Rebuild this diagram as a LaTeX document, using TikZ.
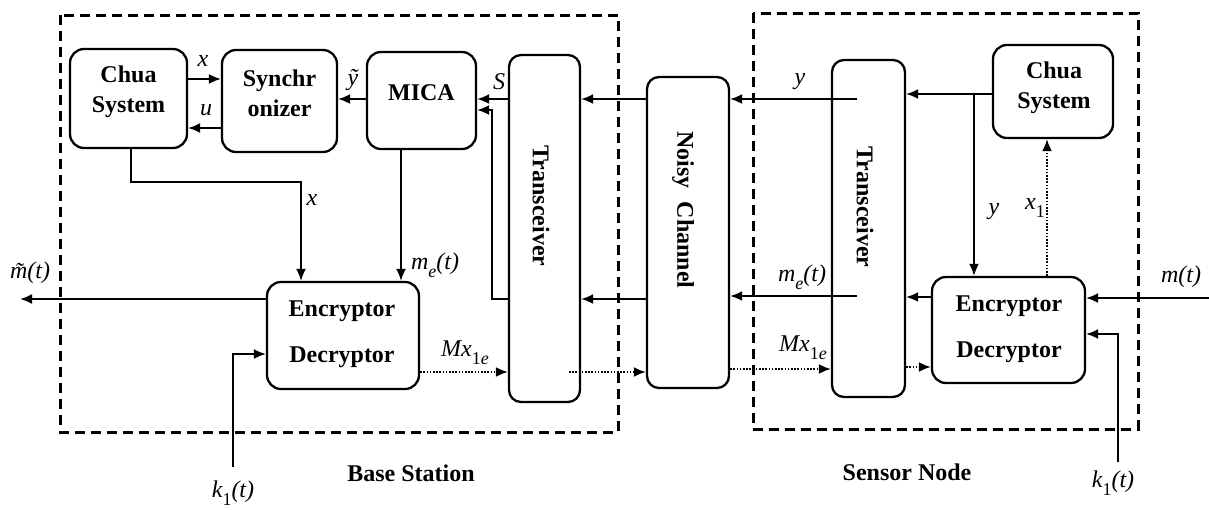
\documentclass[tikz,border=0pt]{standalone}
\usepackage{fontspec}
\setmainfont{Liberation Serif}[BoldFont={Liberation Serif Bold},ItalicFont={Liberation Serif Italic}]
\usetikzlibrary{arrows.meta}
\newcommand{\lsub}[1]{\raisebox{-0.34em}{\fontsize{18pt}{18pt}\selectfont #1}}
\begin{document}
\begin{tikzpicture}[x=1pt,y=-1pt,
  blk/.style={draw, line width=2.3pt, rounded corners=14pt, inner sep=0pt},
  btxt/.style={font=\fontsize{24pt}{30pt}\selectfont\bfseries, align=center, inner sep=0pt},
  etxt/.style={font=\fontsize{24pt}{46pt}\selectfont\bfseries, align=center, inner sep=0pt},
  lbl/.style={font=\fontsize{24pt}{24pt}\selectfont\itshape, inner sep=0pt},
  con/.style={line width=1.9pt},
  arr/.style={con, -{Latex[length=12pt,width=10pt]}},
  dotarr/.style={line width=1.9pt, dash pattern=on 1.6pt off 1.6pt, -{Latex[length=12pt,width=10pt]}},
  grp/.style={line width=3pt, dash pattern=on 10pt off 6pt},
  gtxt/.style={font=\fontsize{24pt}{28pt}\selectfont\bfseries, inner sep=0pt}
]
\useasboundingbox (0,0) rectangle (1209,509);

% group frames
\draw[grp] (60,15) rectangle (618,432);
\draw[grp] (753,13) rectangle (1138,429);
\node[gtxt] (bs) at (411,473) {Base Station};
\node[gtxt] (sn) at (907,472) {Sensor Node};

% blocks
\node[blk, minimum width=117pt, minimum height=99pt] (chuaL) at (128.5,98.5) {};
\node[btxt] (chuaLt) at (128.5,92) {Chua\\System};
\node[blk, minimum width=115pt, minimum height=102pt] (sync) at (279.5,101) {};
\node[btxt] (synct) at (279.5,93) {Synchr\\onizer};
\node[blk, minimum width=109pt, minimum height=97pt] (mica) at (421.5,100.5) {};
\node[btxt] (micat) at (421.5,93) {MICA};
\node[blk, rounded corners=12pt, minimum width=71pt, minimum height=347pt] (trL) at (544.5,228.5) {};
\node[btxt, rotate=-90] (trLt) at (541,206) {Transceiver};
\node[blk, rounded corners=12pt, minimum width=82pt, minimum height=311pt] (noisy) at (688,232.5) {};
\node[btxt, rotate=-90] (noisyt) at (683,210) {Noisy\hspace{0.55em}Channel};
\node[blk, rounded corners=12pt, minimum width=73pt, minimum height=337pt] (trR) at (868.5,228.5) {};
\node[btxt, rotate=-90] (trRt) at (865,207) {Transceiver};
\node[blk, minimum width=120pt, minimum height=93pt] (chuaR) at (1053,91.5) {};
\node[btxt] (chuaRt) at (1054,87.5) {Chua\\System};
\node[blk, minimum width=152pt, minimum height=107pt] (encL) at (343,335.5) {};
\node[etxt] (encLt) at (342,334) {Encryptor\\Decryptor};
\node[blk, minimum width=153pt, minimum height=106pt] (encR) at (1008.5,330) {};
\node[etxt] (encRt) at (1009,329.5) {Encryptor\\Decryptor};

% free ends
\coordinate (mtout) at (20,299);
\coordinate (k1L) at (233,467);
\coordinate (mtin) at (1209,298);
\coordinate (k1R) at (1118,462);

% base station connectors
\draw[arr] (chuaL.east |- 0,79) -- (sync.west |- 0,79);
\draw[arr] (sync.west |- 0,128) -- (chuaL.east |- 0,128);
\draw[arr] (mica.west |- 0,99) -- (sync.east |- 0,99);
\draw[arr] (131,0 |- chuaL.south) -- (131,182) -- (301,182) -- (301,0 |- encL.north);
\draw[arr] (401,0 |- mica.south) -- (401,0 |- encL.north);
\draw[arr] (trL.west |- 0,99) -- (mica.east |- 0,99);
\draw[arr] (trL.west |- 0,299) -- (492,299) -- (492,110) -- (mica.east |- 0,110);
\draw[arr] (encL.west |- 0,299) -- (mtout);
\draw[arr] (k1L) -- (233,354) -- (encL.west |- 0,354);
\draw[dotarr] (encL.east |- 0,372) -- (trL.west |- 0,372);
\draw[dotarr] (569,372) -- (noisy.west |- 0,372);
\draw[arr] (noisy.west |- 0,99) -- (trL.east |- 0,99);
\draw[arr] (noisy.west |- 0,299) -- (trL.east |- 0,299);

% sensor node connectors
\draw[arr] (857,99) -- (noisy.east |- 0,99);
\draw[arr] (857,296) -- (noisy.east |- 0,296);
\draw[dotarr] (noisy.east |- 0,369) -- (trR.west |- 0,369);
\draw[arr] (chuaR.west |- 0,94) -- (trR.east |- 0,94);
\draw[arr] (974,94) -- (974,0 |- encR.north);
\draw[dotarr] (1047,0 |- encR.north) -- (1047,0 |- chuaR.south);
\draw[arr] (encR.west |- 0,297) -- (trR.east |- 0,297);
\draw[dotarr] (trR.east |- 0,367) -- (encR.west |- 0,367);
\draw[arr] (mtin) -- (encR.east |- 0,298);
\draw[arr] (k1R) -- (1118,334) -- (encR.east |- 0,334);

% labels
\node[lbl] (lx1) at (203,61) {x};
\node[lbl] (lu) at (206,110) {u};
\node[lbl] (lyt) at (353,80) {\~{y}};
\node[lbl] (lS) at (499,82) {S};
\node[lbl] (lx2) at (312,200) {x};
\node[lbl] (lme1) at (435,265) {m\lsub{e}(t)};
\node[lbl] (lmt) at (30,273) {\~{m}(t)};
\node[lbl] (lk1) at (233,493) {k\lsub{\upshape 1}(t)};
\node[lbl] (lMx1) at (465,353) {Mx\lsub{{\upshape 1}e}};
\node[lbl] (ly1) at (800,82) {y};
\node[lbl] (lme2) at (802,277) {m\lsub{e}(t)};
\node[lbl] (lMx2) at (803,348) {Mx\lsub{{\upshape 1}e}};
\node[lbl] (ly2) at (994,212) {y};
\node[lbl] (lx3) at (1035,208) {x\lsub{\upshape 1}};
\node[lbl] (lm) at (1181,277) {m(t)};
\node[lbl] (lk2) at (1113,483) {k\lsub{\upshape 1}(t)};
\end{tikzpicture}
\end{document}
